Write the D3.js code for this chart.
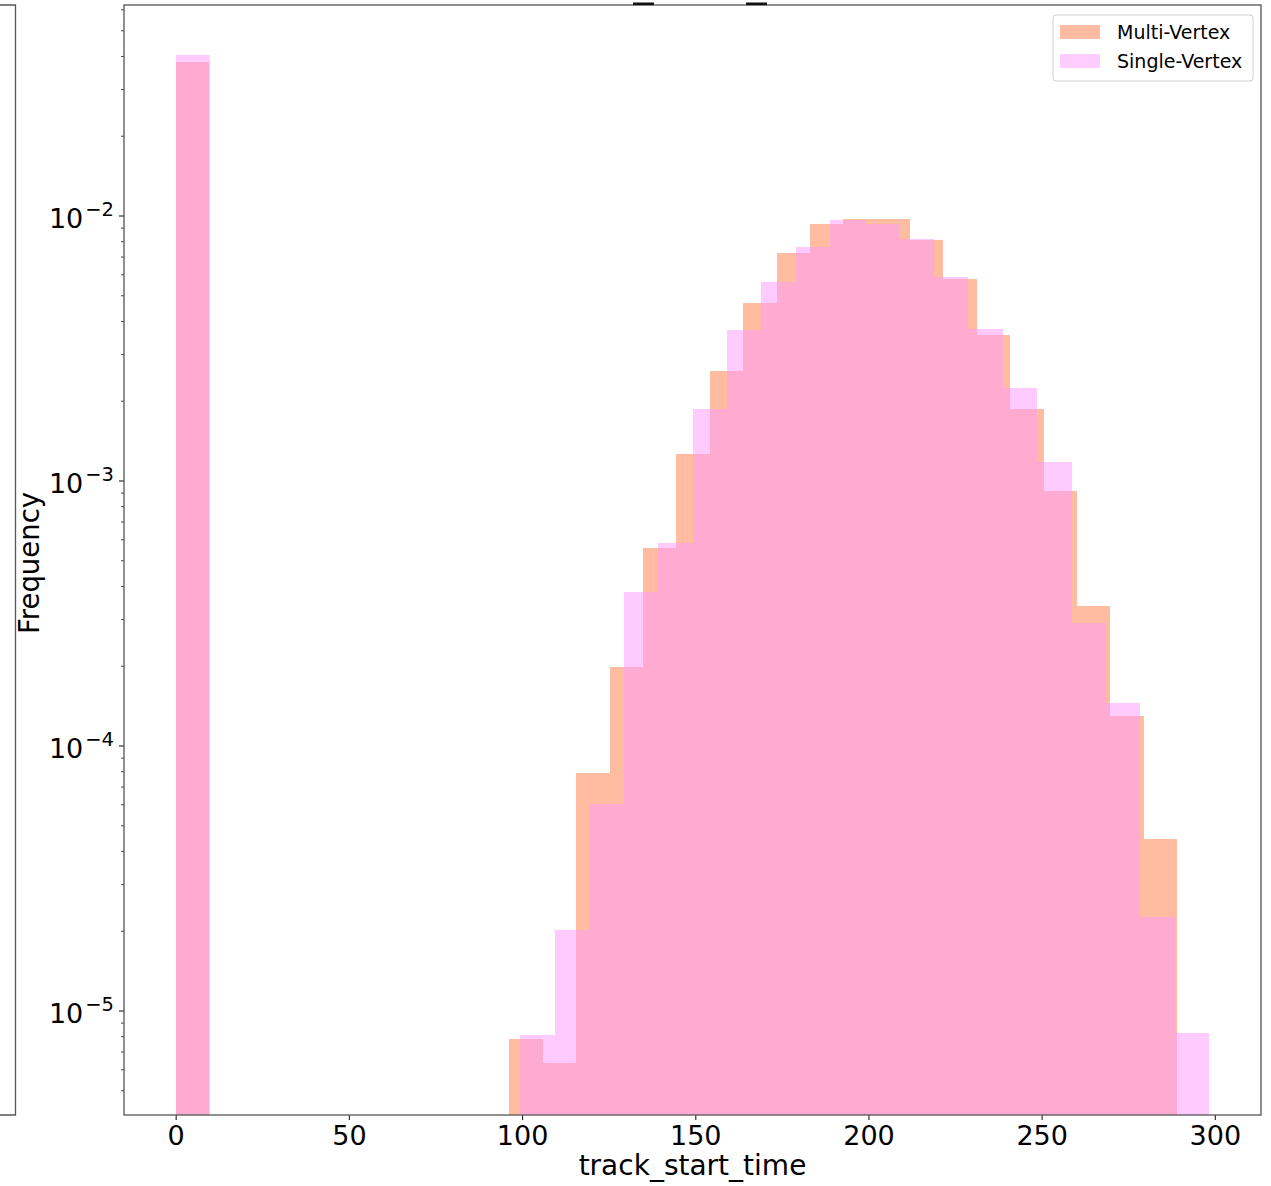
<!DOCTYPE html>
<html>
<head>
<meta charset="utf-8">
<script src="https://cdn.jsdelivr.net/npm/d3@7"></script>
<style>
  html, body { margin: 0; padding: 0; background: #fff; }
  svg { display: block; }
  text { font-family: "DejaVu Sans", sans-serif; fill: #000; }
</style>
</head>
<body>
<svg id="chart" width="1271" height="1186"></svg>
<script>
// Histogram densities (30 equal bins per series, log-scaled frequency)
const seriesNames = ["Multi-Vertex", "Single-Vertex"];
const nBins = 30;
const multiRange = [0, 289.1];
const singleRange = [0, 298.4];

const multiDensity = [
  0.03813, 0, 0, 0, 0, 0, 0, 0, 0, 0,
  7.84e-6, 6.35e-6, 7.89e-5, 1.987e-4, 5.60e-4, 1.268e-3, 2.601e-3, 4.71e-3, 7.27e-3, 9.30e-3,
  9.74e-3, 9.74e-3, 8.09e-3, 5.79e-3, 3.565e-3, 1.865e-3, 9.17e-4, 3.383e-4, 1.295e-4, 4.46e-5
];
const singleDensity = [
  0.04041, 0, 0, 0, 0, 0, 0, 0, 0, 0,
  8.10e-6, 2.021e-5, 6.06e-5, 3.81e-4, 5.82e-4, 1.865e-3, 3.713e-3, 5.62e-3, 7.62e-3, 9.66e-3,
  9.30e-3, 8.16e-3, 5.90e-3, 3.746e-3, 2.244e-3, 1.183e-3, 2.904e-4, 1.452e-4, 2.258e-5, 8.29e-6
];

const xTicks = [0, 50, 100, 150, 200, 250, 300];
const yTickExponents = [-2, -3, -4, -5];

const svg = d3.select("#chart");
const plot = { left: 124, right: 1261, top: 5, bottom: 1115 };

// x: data span plus 5% margins on each side
const span = singleRange[1] - singleRange[0];
const x = d3.scaleLinear()
  .domain([singleRange[0] - 0.05 * span, singleRange[1] + 0.05 * span])
  .range([plot.left, plot.right]);

const y = d3.scaleLog()
  .domain([Math.pow(10, -5.39245), Math.pow(10, -1.20377)])
  .range([plot.bottom, plot.top]);

// neighbouring panel's frame edge at the far left
const edge = svg.append("g").attr("stroke", "#555").attr("stroke-width", 1.3).attr("fill", "none");
edge.append("path").attr("d", `M0,${plot.top}H15.5V${plot.bottom}H0`);

function bins(range, values) {
  const w = (range[1] - range[0]) / nBins;
  return values.map((v, i) => ({ x0: range[0] + i * w, x1: range[0] + (i + 1) * w, v }))
    .filter(d => d.v > 0);
}

const defs = svg.append("defs");
defs.append("clipPath").attr("id", "plotClip")
  .append("rect")
  .attr("x", plot.left).attr("y", plot.top)
  .attr("width", plot.right - plot.left).attr("height", plot.bottom - plot.top);

const colors = { multi: "#FFA07A", single: "#FF99FF" };
const opac = { multi: 0.7, single: 0.5 };

function drawSeries(data, color, op) {
  const g = svg.append("g").attr("clip-path", "url(#plotClip)").attr("opacity", op);
  g.selectAll("rect").data(data).join("rect")
    .attr("x", d => x(d.x0))
    .attr("width", d => x(d.x1) - x(d.x0))
    .attr("y", d => y(d.v))
    .attr("height", d => plot.bottom - y(d.v))
    .attr("fill", color)
    .attr("shape-rendering", "crispEdges");
}
drawSeries(bins(multiRange, multiDensity), colors.multi, opac.multi);
drawSeries(bins(singleRange, singleDensity), colors.single, opac.single);

// x axis
const xAxis = svg.append("g")
  .attr("transform", `translate(0,${plot.bottom})`)
  .call(d3.axisBottom(x).tickValues(xTicks).tickSize(5).tickPadding(6).tickFormat(d3.format("d")));
xAxis.select(".domain").remove();
xAxis.selectAll(".tick line").attr("stroke", "#333").attr("stroke-width", 1.2);
xAxis.selectAll(".tick text")
  .attr("font-family", "DejaVu Sans").attr("font-size", 27).attr("fill", "#000")
  .attr("dy", null).attr("y", 30);

// y axis: minor ticks (2..9 per decade) and major ticks at powers of ten
const yg = svg.append("g");
const [lo, hi] = y.domain();
const minor = [];
for (let e = -6; e <= -1; e++) {
  for (let m = 2; m <= 9; m++) {
    const v = m * Math.pow(10, e);
    if (v >= lo && v <= hi) minor.push(v);
  }
}
yg.selectAll("line.minor").data(minor).join("line")
  .attr("class", "minor")
  .attr("x1", plot.left - 3).attr("x2", plot.left)
  .attr("y1", d => y(d)).attr("y2", d => y(d))
  .attr("stroke", "#333").attr("stroke-width", 0.9);
yg.selectAll("line.major").data(yTickExponents).join("line")
  .attr("class", "major")
  .attr("x1", plot.left - 5).attr("x2", plot.left)
  .attr("y1", d => y(Math.pow(10, d))).attr("y2", d => y(Math.pow(10, d)))
  .attr("stroke", "#333").attr("stroke-width", 1.2);
const yl = yg.selectAll("text.ylab").data(yTickExponents).join("text")
  .attr("class", "ylab")
  .attr("x", 114)
  .attr("y", d => y(Math.pow(10, d)) + 11.5)
  .attr("text-anchor", "end")
  .attr("font-size", 27);
yl.append("tspan").text("10");
yl.append("tspan").attr("dx", 2).attr("dy", -11.5).attr("font-size", 19.5)
  .text(d => "\u2212" + Math.abs(d));

// frame
svg.append("rect")
  .attr("x", plot.left).attr("y", plot.top)
  .attr("width", plot.right - plot.left).attr("height", plot.bottom - plot.top)
  .attr("fill", "none").attr("stroke", "#555").attr("stroke-width", 1.3);

// underscores of the heading clipped by the top edge
svg.append("g").attr("fill", "#111")
  .selectAll("rect").data([633, 746]).join("rect")
  .attr("x", d => d).attr("y", 2.5).attr("width", 21).attr("height", 2.6);

// axis titles
svg.append("text")
  .attr("x", (plot.left + plot.right) / 2).attr("y", 1175)
  .attr("text-anchor", "middle").attr("font-size", 28)
  .text("track_start_time");
svg.append("text")
  .attr("transform", `translate(39,${(plot.top + plot.bottom) / 2 + 3}) rotate(-90)`)
  .attr("text-anchor", "middle").attr("font-size", 27.5)
  .text("Frequency");

// legend
const lg = svg.append("g").attr("transform", "translate(1053,15)");
lg.append("rect").attr("width", 200).attr("height", 66).attr("rx", 3)
  .attr("fill", "#fff").attr("fill-opacity", 0.8)
  .attr("stroke", "#d0d0d0").attr("stroke-width", 1);
const legendItems = [
  { name: seriesNames[0], color: colors.multi, op: opac.multi },
  { name: seriesNames[1], color: colors.single, op: opac.single }
];
const li = lg.selectAll("g.item").data(legendItems).join("g")
  .attr("class", "item")
  .attr("transform", (d, i) => `translate(7,${10 + i * 29})`);
li.append("rect").attr("width", 40).attr("height", 14)
  .attr("fill", d => d.color).attr("fill-opacity", d => d.op);
li.append("text").attr("x", 57).attr("y", 14).attr("font-size", 19).text(d => d.name);
</script>
</body>
</html>
